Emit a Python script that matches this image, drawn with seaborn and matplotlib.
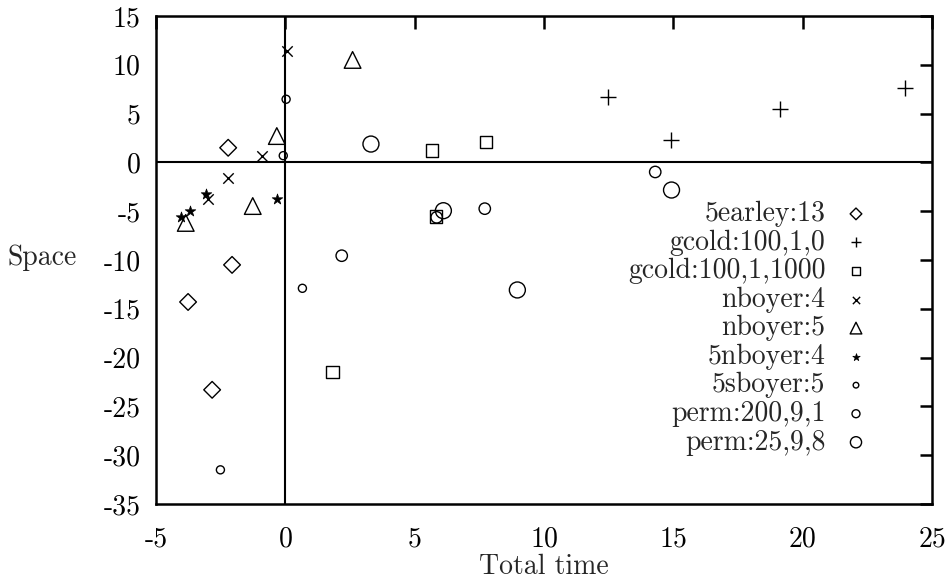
import matplotlib
matplotlib.use("Agg")
import matplotlib.pyplot as plt
import seaborn as sns
import pandas as pd

# ---- data ----
earley_x = [-2.21, -2.06, -3.76, -2.83]
earley_y = [1.5, -10.5, -14.3, -23.3]
gcold0_x = [12.49, 14.9, 19.12, 23.95]
gcold0_y = [6.67, 2.3, 5.47, 7.6]
gcold1000_x = [5.67, 7.76, 5.83, 1.83]
gcold1000_y = [1.2, 2.1, -5.56, -21.5]
nboyer4_x = [0.08, -0.89, -2.2, -2.98]
nboyer4_y = [11.4, 0.7, -1.6, -3.7]
nboyer5_x = [-0.33, -1.26, -3.85, 2.6]
nboyer5_y = [2.7, -4.47, -6.2, 10.5]
nboyer54_x = [-3.05, -3.68, -4.04, -0.33]
nboyer54_y = [-3.27, -4.98, -5.56, -3.75]
sboyer_x = [0.03, -0.08, 0.66, -2.51]
sboyer_y = [6.47, 0.69, -12.9, -31.5]
perm200_x = [2.18, 7.71, 5.85, 14.3]
perm200_y = [-9.56, -4.74, -5.63, -0.98]
perm25_x = [3.31, 6.11, 8.97, 14.93]
perm25_y = [1.88, -4.95, -13.07, -2.83]

labels = ["5earley:13", "gcold:100,1,0", "gcold:100,1,1000", "nboyer:4",
          "nboyer:5", "5nboyer:4", "5sboyer:5", "perm:200,9,1", "perm:25,9,8"]
xs = [earley_x, gcold0_x, gcold1000_x, nboyer4_x, nboyer5_x, nboyer54_x,
      sboyer_x, perm200_x, perm25_x]
ys = [earley_y, gcold0_y, gcold1000_y, nboyer4_y, nboyer5_y, nboyer54_y,
      sboyer_y, perm200_y, perm25_y]

x_ticks = [-5, 0, 5, 10, 15, 20, 25]
y_ticks = [-35, -30, -25, -20, -15, -10, -5, 0, 5, 10, 15]

# ---- styles ----
markers = ["D", "+", "s", "x", "^", "*", "o", "o", "o"]
msizes = [8.5, 11, 9, 7.5, 12, 8, 5.8, 8.2, 11.5]
hollow = [True, False, True, False, True, False, True, True, True]

sns.set_theme(style="white")
plt.rcParams["font.family"] = ["cmr10", "DejaVu Serif"]
plt.rcParams["axes.unicode_minus"] = False
plt.rcParams["mathtext.fontset"] = "cm"

fig = plt.figure(figsize=(9.5, 5.8), dpi=100)
ax = fig.add_axes([156 / 950, 1 - 504 / 580, 776 / 950, 488 / 580])

FS = 20
for lab, x, y, m, s, h in zip(labels, xs, ys, markers, msizes, hollow):
    df = pd.DataFrame({"x": x, "y": y})
    if h:
        kw = dict(facecolor="none", edgecolor="black", linewidth=1.0)
    elif m == "*":
        kw = dict(color="black", edgecolor="black", linewidth=0.5)
    else:
        kw = dict(color="black", linewidth=1.0)
    sns.scatterplot(data=df, x="x", y="y", marker=m, s=s ** 2, ax=ax,
                    label=lab, **kw)

ax.axhline(0, color="black", lw=1.5, zorder=1)
ax.axvline(0, color="black", lw=1.5, zorder=1)

ax.set_xlim(-5, 25)
ax.set_ylim(-35, 15)
ax.set_xticks(x_ticks, [str(t) for t in x_ticks])
ax.set_yticks(y_ticks, [str(t) for t in y_ticks])
ax.tick_params(direction="in", length=9, width=1.8, top=True, right=True,
               labelsize=FS, colors="black")
ax.tick_params(axis="y", pad=11)
ax.tick_params(axis="x", pad=16)
for sp in ax.spines.values():
    sp.set_linewidth(1.8)
    sp.set_color("black")

ax.set_xlabel("Total time", fontsize=FS, labelpad=1)
ax.set_ylabel("Space", fontsize=FS, rotation=0, va="center", ha="center")
ax.yaxis.set_label_coords(-0.147, 0.504)

leg = ax.legend(markerfirst=False, frameon=False, loc="upper right",
                bbox_to_anchor=(0.945, 0.644), fontsize=FS, handletextpad=0.3,
                handlelength=1.6, labelspacing=0.08, markerscale=0.7,
                borderaxespad=0)

fig.savefig("out.png", dpi=100)
